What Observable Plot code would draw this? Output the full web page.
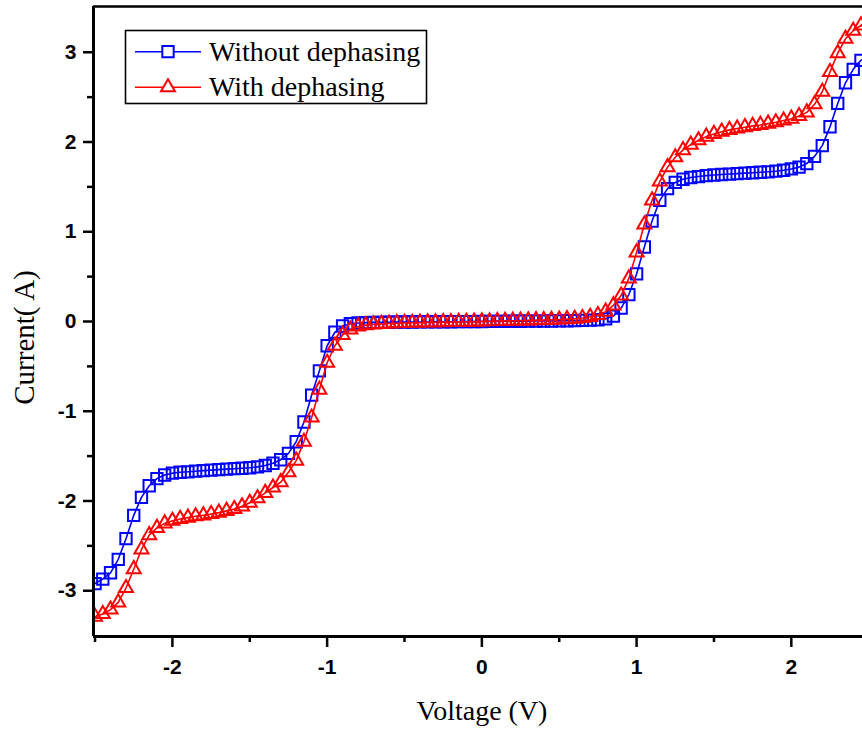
<!DOCTYPE html>
<html><head><meta charset="utf-8">
<script src="https://cdn.jsdelivr.net/npm/d3@7"></script>
<script src="https://cdn.jsdelivr.net/npm/@observablehq/plot@0.6"></script>
<style>
html,body{margin:0;padding:0;background:#fff;}
#wrap{position:relative;width:862px;height:732px;overflow:hidden;}
#legend{position:absolute;left:0;top:0;pointer-events:none;}
</style></head><body><div id="wrap"></div>
<script>
const voltage = [-2.50,-2.45,-2.40,-2.35,-2.30,-2.25,-2.20,-2.15,-2.10,-2.05,
 -2.00,-1.95,-1.90,-1.85,-1.80,-1.75,-1.70,-1.65,-1.60,-1.55,
 -1.50,-1.45,-1.40,-1.35,-1.30,-1.25,-1.20,-1.15,-1.10,-1.05,
 -1.00,-0.95,-0.90,-0.85,-0.80,-0.75,-0.70,-0.65,-0.60,-0.55,
 -0.50,-0.45,-0.40,-0.35,-0.30,-0.25,-0.20,-0.15,-0.10,-0.05,
 0.00,0.05,0.10,0.15,0.20,0.25,0.30,0.35,0.40,0.45,
 0.50,0.55,0.60,0.65,0.70,0.75,0.80,0.85,0.90,0.95,
 1.00,1.05,1.10,1.15,1.20,1.25,1.30,1.35,1.40,1.45,
 1.50,1.55,1.60,1.65,1.70,1.75,1.80,1.85,1.90,1.95,
 2.00,2.05,2.10,2.15,2.20,2.25,2.30,2.35,2.40,2.45,2.50];

const currentWithout = [-2.92,-2.87,-2.80,-2.65,-2.42,-2.16,-1.96,-1.83,-1.75,-1.71,
 -1.69,-1.68,-1.675,-1.668,-1.662,-1.656,-1.65,-1.645,-1.64,-1.635,
 -1.63,-1.62,-1.605,-1.58,-1.54,-1.47,-1.34,-1.12,-0.82,-0.55,
 -0.27,-0.12,-0.05,-0.025,-0.016,-0.012,-0.010,-0.009,-0.008,-0.007,
 -0.006,-0.006,-0.005,-0.005,-0.004,-0.003,-0.003,-0.002,-0.001,-0.001,
 0.000,0.001,0.001,0.002,0.003,0.003,0.004,0.005,0.005,0.006,
 0.007,0.008,0.010,0.012,0.015,0.020,0.030,0.060,0.150,0.300,
 0.530,0.830,1.120,1.350,1.480,1.550,1.585,1.605,1.615,1.625,
 1.632,1.638,1.643,1.648,1.653,1.658,1.663,1.668,1.675,1.685,
 1.700,1.720,1.760,1.840,1.960,2.170,2.430,2.660,2.810,2.910,2.960];

const currentWith = [-3.29,-3.26,-3.21,-3.13,-2.97,-2.76,-2.54,-2.38,-2.30,-2.25,
 -2.22,-2.20,-2.185,-2.17,-2.16,-2.145,-2.13,-2.11,-2.09,-2.06,
 -2.02,-1.97,-1.91,-1.85,-1.79,-1.68,-1.55,-1.34,-1.07,-0.76,
 -0.46,-0.27,-0.15,-0.09,-0.055,-0.040,-0.032,-0.026,-0.022,-0.019,
 -0.016,-0.014,-0.012,-0.010,-0.008,-0.007,-0.006,-0.004,-0.003,-0.001,
 0.001,0.003,0.005,0.007,0.009,0.011,0.013,0.015,0.017,0.019,
 0.022,0.026,0.031,0.039,0.052,0.072,0.110,0.180,0.290,0.480,
 0.770,1.080,1.350,1.560,1.720,1.830,1.910,1.970,2.020,2.060,
 2.090,2.115,2.135,2.150,2.165,2.180,2.190,2.205,2.220,2.240,
 2.260,2.290,2.330,2.420,2.560,2.780,2.990,3.150,3.240,3.300,3.340];

const seriesNames = ["Without dephasing", "With dephasing"];
const seriesColors = ["#0000ff", "#ff0000"];
const xMajorTicks = [-2, -1, 0, 1, 2];
const xMinorTicks = [-2.5, -1.5, -0.5, 0.5, 1.5];
const yMajorTicks = [-3, -2, -1, 0, 1, 2, 3];
const yMinorTicks = [-2.5, -1.5, -0.5, 0.5, 1.5, 2.5];
const xDomain = [-2.51, 2.46];
const yDomain = [-3.51, 3.51];
const xTitle = "Voltage (V)";
const yTitle = "Current( A)";

const rowsWithout = voltage.map((v, i) => ({v, c: currentWithout[i]}));
const rowsWith = voltage.map((v, i) => ({v, c: currentWith[i]}));

const tickFont = {fontSize: 21, fontWeight: "bold", fontFamily: "Liberation Sans"};
const titleFont = {fontSize: 28, fontFamily: "Liberation Serif", fill: "black"};

const chart = Plot.plot({
  width: 862, height: 732,
  marginTop: 6, marginRight: 0, marginBottom: 96, marginLeft: 93,
  style: {background: "white", color: "black", fontFamily: "Liberation Sans"},
  x: {domain: xDomain},
  y: {domain: yDomain},
  marks: [
    Plot.line(rowsWithout, {x: "v", y: "c", stroke: seriesColors[0], strokeWidth: 1.6, clip: true}),
    Plot.dot(rowsWithout, {x: "v", y: "c", symbol: "square", r: 6.4, stroke: seriesColors[0], strokeWidth: 2, fill: "none", clip: true}),
    Plot.line(rowsWith, {x: "v", y: "c", stroke: seriesColors[1], strokeWidth: 1.6, clip: true}),
    Plot.dot(rowsWith, {x: "v", y: "c", symbol: "triangle", r: 5.2, stroke: seriesColors[1], strokeWidth: 2, fill: "none", clip: true}),
    Plot.axisX(xMajorTicks, {tickSize: 11, tickPadding: 12, strokeWidth: 2.5, tickFormat: d => String(d), label: null, ...tickFont}),
    Plot.axisX(xMinorTicks, {tickSize: 6, strokeWidth: 2.5, tickFormat: () => "", label: null}),
    Plot.axisY(yMajorTicks, {tickSize: 10, tickPadding: 7, strokeWidth: 2.5, tickFormat: d => String(d), label: null, ...tickFont}),
    Plot.axisY(yMinorTicks, {tickSize: 6, strokeWidth: 2.5, tickFormat: () => "", label: null}),
    Plot.ruleX([xDomain[0]], {stroke: "black", strokeWidth: 3}),
    Plot.ruleY([yDomain[0]], {stroke: "black", strokeWidth: 3}),
    Plot.ruleY([yDomain[1]], {stroke: "black", strokeWidth: 2.5}),
    Plot.text([xTitle], {frameAnchor: "bottom", dx: 4, dy: 83, lineAnchor: "bottom", textAnchor: "middle", ...titleFont}),
    Plot.text([yTitle], {frameAnchor: "left", rotate: -90, dx: -60, dy: 16, lineAnchor: "bottom", textAnchor: "middle", ...titleFont, fontSize: 29})
  ]
});

// force tick label font on every tick-label text element
const tickTexts = new Set([...xMajorTicks, ...yMajorTicks].map(String));
chart.querySelectorAll("text").forEach(t => {
  if (tickTexts.has(t.textContent.trim())) {
    t.style.fontSize = "21px";
    t.style.fontWeight = "bold";
    t.style.fontFamily = "'Liberation Sans', Arial, sans-serif";
  }
});

const wrap = document.getElementById("wrap");
wrap.appendChild(chart);

// legend overlay
const leg = d3.select(wrap).append("svg").attr("id", "legend")
  .attr("width", 862).attr("height", 732);
leg.append("rect").attr("x", 125.5).attr("y", 30.5).attr("width", 301).attr("height", 73)
  .attr("fill", "white").attr("stroke", "black").attr("stroke-width", 1.6);
const rowY = [51.7, 87.3];
const symbols = [d3.symbol(d3.symbolSquare, Math.PI * 6.4 * 6.4)(), d3.symbol(d3.symbolTriangle, Math.PI * 5.2 * 5.2)()];
seriesNames.forEach((name, i) => {
  const g = leg.append("g");
  g.append("line").attr("x1", 135).attr("x2", 201).attr("y1", rowY[i]).attr("y2", rowY[i])
    .attr("stroke", seriesColors[i]).attr("stroke-width", 1.6);
  g.append("path").attr("d", symbols[i]).attr("transform", `translate(168,${rowY[i]})`)
    .attr("fill", "white").attr("stroke", seriesColors[i]).attr("stroke-width", 2);
  g.append("text").attr("x", 209).attr("y", rowY[i] + 9).text(name)
    .attr("font-family", "Liberation Serif").attr("font-size", 28).attr("fill", "black");
});
</script></body></html>
